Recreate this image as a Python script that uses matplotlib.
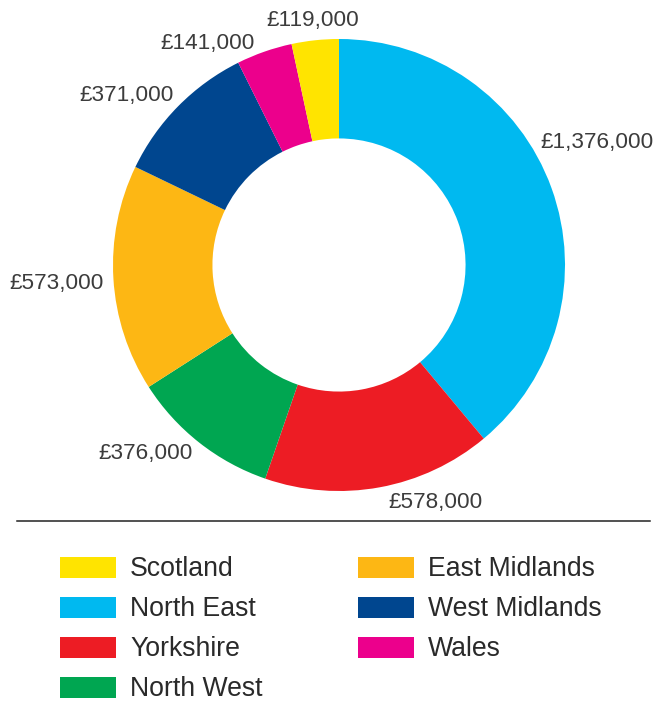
import matplotlib
matplotlib.use("Agg")
import matplotlib.pyplot as plt
from matplotlib.patches import Rectangle
from matplotlib.lines import Line2D

plt.rcParams['font.family'] = ['Liberation Sans', 'DejaVu Sans']

# regions in clockwise order from the top of the ring
regions = ['North East', 'Yorkshire', 'North West', 'East Midlands',
           'West Midlands', 'Wales', 'Scotland']
amounts = [1376000, 578000, 376000, 573000, 371000, 141000, 119000]
colours = {
    'Scotland': '#ffe400',
    'North East': '#00b9f0',
    'Yorkshire': '#ed1c24',
    'North West': '#00a651',
    'East Midlands': '#fdb714',
    'West Midlands': '#00468f',
    'Wales': '#ec008c',
}
legend_order = ['Scotland', 'North East', 'Yorkshire', 'North West',
                'East Midlands', 'West Midlands', 'Wales']

# hand placed label spots (ring radius = 1)
label_xy = {
    'North East': (1.142, 0.544),
    'Yorkshire': (0.429, -1.049),
    'North West': (-0.854, -0.832),
    'East Midlands': (-1.248, -0.080),
    'West Midlands': (-0.938, 0.748),
    'Wales': (-0.580, 0.978),
    'Scotland': (-0.115, 1.084),
}

W, H = 656, 715
fig = plt.figure(figsize=(W / 100, H / 100), dpi=100)

# ring axes: centre at (339, 265) px, radius 226 px
cx, cy, R = 339, 265, 226
top_px = 520
ax = fig.add_axes([0, 1 - top_px / H, 1, top_px / H])
ax.pie(amounts, colors=[colours[r] for r in regions], startangle=90,
       counterclock=False, radius=1,
       wedgeprops=dict(width=0.44, linewidth=0))
ax.set_aspect('auto')
ax.set_xlim(-cx / R, (W - cx) / R)
ax.set_ylim((cy - top_px) / R, cy / R)
ax.axis('off')

for r, v in zip(regions, amounts):
    x, y = label_xy[r]
    ax.text(x, y, '£{:,}'.format(v), ha='center', va='center',
            fontsize=16.2, color='#3c3c3c')

# divider between chart and key
fig.add_artist(Line2D([17 / W, 650 / W], [1 - 521 / H, 1 - 521 / H],
                      color='#222222', linewidth=1.1))

# key: two columns, four rows max
col_x = [60, 358]
row_top = 557
row_step = 40
for i, name in enumerate(legend_order):
    col, row = divmod(i, 4)
    x0 = col_x[col]
    y0 = row_top + row * row_step
    fig.add_artist(Rectangle((x0 / W, 1 - (y0 + 21) / H), 56 / W, 21 / H,
                             facecolor=colours[name], edgecolor='none',
                             transform=fig.transFigure))
    fig.text((x0 + 70) / W, 1 - (y0 + 12) / H, name, ha='left', va='center',
             fontsize=19.2, color='#2a2a2a')

fig.savefig('out.png', dpi=100)
